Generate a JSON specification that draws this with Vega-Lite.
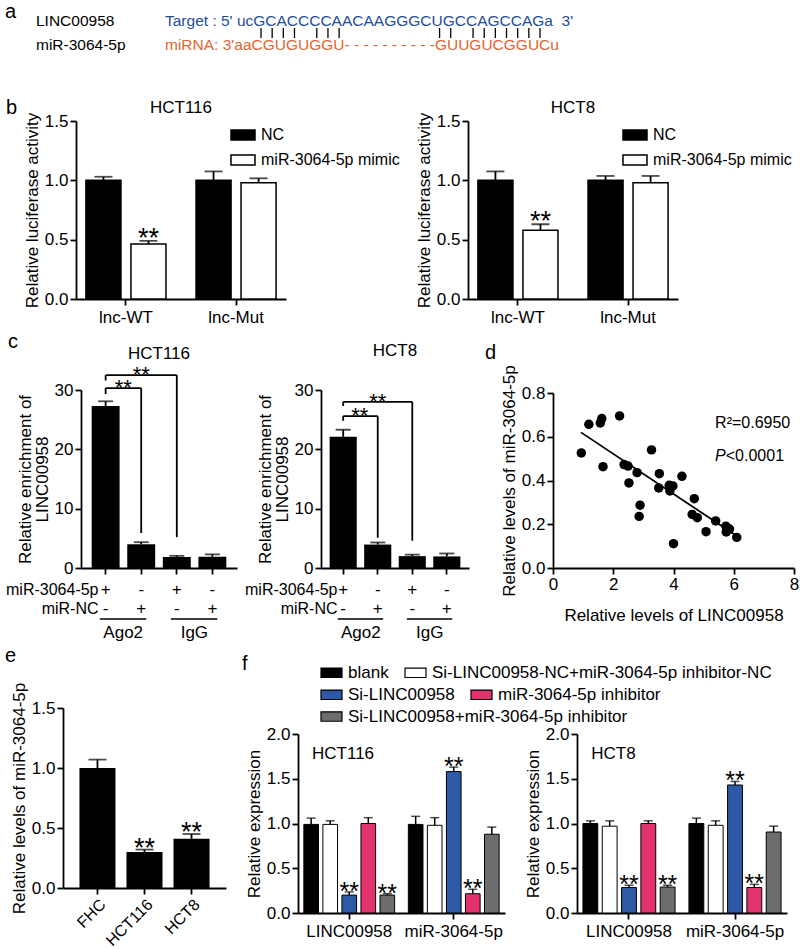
{
  "$schema": "https://vega.github.io/schema/vega-lite/v6.json",
  "background": "white",
  "padding": {"left": 2, "top": 2, "right": 0, "bottom": 0},
  "config": {
    "font": "Liberation Sans",
    "view": {"stroke": null},
    "axis": {"domainColor": "black", "domainWidth": 1.8, "tickColor": "black", "tickWidth": 1.8, "tickSize": 6, "labelColor": "black", "labelFontSize": 17, "titleFontSize": 17, "titleFontWeight": "normal", "titleColor": "black", "grid": false, "labelPadding": 3, "titlePadding": 3, "labelOverlap": false, "labelFlush": false},
    "title": {"fontSize": 17, "fontWeight": "normal", "color": "black", "baseline": "alphabetic"},
    "legend": {"labelFontSize": 17, "labelColor": "black", "padding": 0, "labelLimit": 500},
    "text": {"color": "black"}
  },
  "resolve": {"scale": {"x": "independent", "y": "independent", "xOffset": "independent", "color": "independent", "fill": "independent"}},
  "spacing": 44,
  "vconcat": [
    {
      "width": 326, "height": 36,
      "title": {"text": "a", "anchor": "start", "frame": "group", "fontSize": 20, "dx": 3, "offset": -8},
      "resolve": {"scale": {"x": "independent"}},
      "layer": [
        {
          "data": {"values": [
            {"col": "label", "line": "t", "txt": "LINC00958", "kind": "label"},
            {"col": "label", "line": "m", "txt": "miR-3064-5p", "kind": "label"},
            {"col": "seq", "line": "t", "txt": "Target : 5' ucGCACCCCAACAAGGGCUGCCAGCCAGa\u00a0\u00a03'", "kind": "target"},
            {"col": "seq", "line": "m", "txt": "miRNA: 3'aaCGUGUGGU-\u00a0-\u00a0-\u00a0-\u00a0-\u00a0-\u00a0-\u00a0-\u00a0-\u00a0-GUUGUCGGUCu", "kind": "mirna"}
          ]},
          "mark": {"type": "text", "align": "left", "baseline": "middle", "fontSize": 15.5},
          "encoding": {
            "x": {"field": "col", "type": "nominal", "bandPosition": 0, "scale": {"type": "band", "domain": ["label", "seq"], "paddingInner": 0, "paddingOuter": 0.2636}, "axis": null},
            "y": {"field": "line", "type": "nominal", "scale": {"type": "point", "domain": ["t", "p", "m"], "padding": 0.5}, "axis": null},
            "text": {"field": "txt"},
            "color": {"field": "kind", "type": "nominal", "scale": {"domain": ["label", "target", "mirna"], "range": ["black", "#1f4e9a", "#e4652f"]}, "legend": null}
          }
        },
        {
          "data": {"values": [
            {"k": 1, "line": "p", "pairing": "match"}, {"k": 2, "line": "p", "pairing": "match"}, {"k": 3, "line": "p", "pairing": "match"}, {"k": 4, "line": "p", "pairing": "match"},
            {"k": 6, "line": "p", "pairing": "match"}, {"k": 7, "line": "p", "pairing": "match"}, {"k": 8, "line": "p", "pairing": "match"},
            {"k": 17, "line": "p", "pairing": "wobble"}, {"k": 18, "line": "p", "pairing": "wobble"},
            {"k": 20, "line": "p", "pairing": "match"}, {"k": 21, "line": "p", "pairing": "match"}, {"k": 22, "line": "p", "pairing": "match"}, {"k": 23, "line": "p", "pairing": "match"},
            {"k": 24, "line": "p", "pairing": "match"}, {"k": 25, "line": "p", "pairing": "match"}, {"k": 26, "line": "p", "pairing": "match"}
          ]},
          "mark": {"type": "tick", "size": 10, "thickness": 1.3, "color": "black", "opacity": 1},
          "encoding": {
            "x": {"field": "k", "type": "quantitative", "scale": {"domain": [1, 26], "range": [259, 538]}, "axis": null},
            "y": {"field": "line", "type": "nominal"},
            "strokeDash": {"field": "pairing", "type": "nominal", "scale": {"domain": ["match", "wobble"], "range": [[1, 0], [2, 6]]}, "legend": null}
          }
        }
      ]
    },
    {
      "spacing": 7,
      "resolve": {"scale": {"x": "independent", "y": "independent", "xOffset": "independent", "fill": "independent"}},
      "vconcat": [
        {
          "title": {"text": "b", "anchor": "start", "frame": "group", "fontSize": 20, "dx": 4, "offset": -19},
          "bounds": "flush",
          "spacing": 0,
          "resolve": {"scale": {"x": "independent", "y": "independent", "xOffset": "independent", "fill": "independent"}},
          "hconcat": [
            {"width": 74, "height": 1, "data": {"values": []}, "mark": "point"},
            {
              "width": 210, "height": 178,
              "title": {"text": "HCT116", "offset": -5},
              "data": {"values": [
                {"bgrp": "lnc-WT", "btreat": "NC", "mean": 1.0, "upper": 1.03, "sig": ""},
                {"bgrp": "lnc-WT", "btreat": "miR-3064-5p mimic", "mean": 0.463, "upper": 0.49, "sig": "**"},
                {"bgrp": "lnc-Mut", "btreat": "NC", "mean": 1.0, "upper": 1.075, "sig": ""},
                {"bgrp": "lnc-Mut", "btreat": "miR-3064-5p mimic", "mean": 0.98, "upper": 1.017, "sig": ""}
              ]},
              "encoding": {
                "x": {"field": "bgrp", "type": "nominal", "scale": {"domain": ["lnc-WT", "lnc-Mut"], "paddingInner": 0.273, "paddingOuter": 0.09}, "axis": {"title": null, "labelAngle": 0, "labelPadding": 4}},
                "xOffset": {"field": "btreat", "type": "nominal", "scale": {"domain": ["NC", "miR-3064-5p mimic"], "paddingInner": 0.222, "paddingOuter": 0}}
              },
              "layer": [
                {"mark": {"type": "bar", "stroke": "black", "strokeWidth": 1.5},
                 "encoding": {
                   "y": {"field": "mean", "type": "quantitative", "scale": {"domain": [0, 1.5], "nice": false}, "axis": {"values": [0, 0.5, 1, 1.5], "format": ".1f", "title": "Relative luciferase activity", "labelPadding": 2}},
                   "fill": {"field": "btreat", "type": "nominal", "scale": {"domain": ["NC", "miR-3064-5p mimic"], "range": ["black", "white"]},
                            "legend": {"title": null, "orient": "none", "legendX": 154, "legendY": 1, "symbolType": "M-1,-0.42H1V0.42H-1Z", "symbolSize": 576, "symbolStrokeColor": "black", "symbolStrokeWidth": 1.5, "labelOffset": 5, "rowPadding": 3, "labelFontSize": 16}}
                 }},
                {"mark": {"type": "rule", "strokeWidth": 1.8, "color": "black"}, "encoding": {"y": {"field": "mean", "type": "quantitative"}, "y2": {"field": "upper"}}},
                {"mark": {"type": "tick", "thickness": 1.8, "size": 18, "color": "black"}, "encoding": {"y": {"field": "upper", "type": "quantitative"}}},
                {"mark": {"type": "text", "fontSize": 27, "dy": 6, "baseline": "alphabetic", "align": "center"}, "encoding": {"y": {"field": "upper", "type": "quantitative"}, "text": {"field": "sig"}}}
              ]
            },
            {"width": 182, "height": 1, "data": {"values": []}, "mark": "point"},
            {
              "width": 210, "height": 178,
              "title": {"text": "HCT8", "offset": -5},
              "data": {"values": [
                {"bgrp": "lnc-WT", "btreat": "NC", "mean": 1.0, "upper": 1.075, "sig": ""},
                {"bgrp": "lnc-WT", "btreat": "miR-3064-5p mimic", "mean": 0.58, "upper": 0.63, "sig": "**"},
                {"bgrp": "lnc-Mut", "btreat": "NC", "mean": 1.0, "upper": 1.037, "sig": ""},
                {"bgrp": "lnc-Mut", "btreat": "miR-3064-5p mimic", "mean": 0.98, "upper": 1.037, "sig": ""}
              ]},
              "encoding": {
                "x": {"field": "bgrp", "type": "nominal", "scale": {"domain": ["lnc-WT", "lnc-Mut"], "paddingInner": 0.273, "paddingOuter": 0.09}, "axis": {"title": null, "labelAngle": 0, "labelPadding": 4}},
                "xOffset": {"field": "btreat", "type": "nominal", "scale": {"domain": ["NC", "miR-3064-5p mimic"], "paddingInner": 0.222, "paddingOuter": 0}}
              },
              "layer": [
                {"mark": {"type": "bar", "stroke": "black", "strokeWidth": 1.5},
                 "encoding": {
                   "y": {"field": "mean", "type": "quantitative", "scale": {"domain": [0, 1.5], "nice": false}, "axis": {"values": [0, 0.5, 1, 1.5], "format": ".1f", "title": "Relative luciferase activity", "labelPadding": 2}},
                   "fill": {"field": "btreat", "type": "nominal", "scale": {"domain": ["NC", "miR-3064-5p mimic"], "range": ["black", "white"]},
                            "legend": {"title": null, "orient": "none", "legendX": 154, "legendY": 1, "symbolType": "M-1,-0.42H1V0.42H-1Z", "symbolSize": 576, "symbolStrokeColor": "black", "symbolStrokeWidth": 1.5, "labelOffset": 5, "rowPadding": 3, "labelFontSize": 16}}
                 }},
                {"mark": {"type": "rule", "strokeWidth": 1.8, "color": "black"}, "encoding": {"y": {"field": "mean", "type": "quantitative"}, "y2": {"field": "upper"}}},
                {"mark": {"type": "tick", "thickness": 1.8, "size": 18, "color": "black"}, "encoding": {"y": {"field": "upper", "type": "quantitative"}}},
                {"mark": {"type": "text", "fontSize": 27, "dy": 6, "baseline": "alphabetic", "align": "center"}, "encoding": {"y": {"field": "upper", "type": "quantitative"}, "text": {"field": "sig"}}}
              ]
            }
          ]
        },
        {
          "spacing": 4,
          "resolve": {"scale": {"x": "independent", "y": "independent", "xOffset": "independent", "fill": "independent"}},
          "vconcat": [
            {
              "title": {"text": "c", "anchor": "start", "frame": "group", "fontSize": 20, "dx": 6, "offset": -10},
              "bounds": "flush",
              "spacing": 0,
              "resolve": {"scale": {"x": "independent", "y": "independent"}},
              "hconcat": [
                {"width": 79, "height": 1, "data": {"values": []}, "mark": "point"},
                {
                  "width": 156, "height": 178,
                  "title": {"text": "HCT116", "offset": 1},
                  "encoding": {
                    "x": {"field": "cond", "type": "nominal", "scale": {"domain": ["c1", "c2", "c3", "c4"], "paddingInner": 0.215, "paddingOuter": 0.3},
                          "axis": {"labelExpr": "datum.value == 'c1' || datum.value == 'c3' ? ['+', '-'] : ['-', '+']", "labelAngle": 0, "labelLineHeight": 19, "labelPadding": 7, "title": ["miR-3064-5p", "miR-NC"], "titleX": 17, "titleY": 13, "titleAlign": "right", "titleBaseline": "top", "titleAngle": 0, "titleLineHeight": 19, "titleFontSize": 16}}
                  },
                  "layer": [
                    {"data": {"values": [
                      {"cond": "c1", "mean": 27.3, "upper": 28.1},
                      {"cond": "c2", "mean": 4.0, "upper": 4.35},
                      {"cond": "c3", "mean": 1.85, "upper": 2.05},
                      {"cond": "c4", "mean": 1.9, "upper": 2.3}
                    ]},
                     "layer": [
                       {"mark": {"type": "bar", "color": "black"},
                        "encoding": {"y": {"field": "mean", "type": "quantitative", "scale": {"domain": [0, 30], "nice": false}, "axis": {"values": [0, 10, 20, 30], "title": ["Relative enrichment of", "LINC00958"], "titleLineHeight": 17, "labelPadding": 2}}}},
                       {"mark": {"type": "rule", "strokeWidth": 1.8, "color": "black"}, "encoding": {"y": {"field": "mean", "type": "quantitative"}, "y2": {"field": "upper"}}},
                       {"mark": {"type": "tick", "thickness": 1.8, "size": 15, "color": "black"}, "encoding": {"y": {"field": "upper", "type": "quantitative"}}}
                     ]},
                    {"data": {"values": [{"cond": "c1", "cond2": "c2", "lev": 30.3}, {"cond": "c1", "cond2": "c3", "lev": 32.5}]},
                     "mark": {"type": "rule", "strokeWidth": 1.8, "color": "black"},
                     "encoding": {"x": {"field": "cond", "type": "nominal", "bandPosition": 0.5}, "x2": {"field": "cond2", "bandPosition": 0.5}, "y": {"field": "lev", "type": "quantitative"}}},
                    {"data": {"values": [{"cond": "c1", "lo": 29.3, "hi": 30.3}, {"cond": "c2", "lo": 5.9, "hi": 30.3}, {"cond": "c1", "lo": 31.6, "hi": 32.5}, {"cond": "c3", "lo": 5.2, "hi": 32.5}]},
                     "mark": {"type": "rule", "strokeWidth": 1.8, "color": "black"},
                     "encoding": {"y": {"field": "lo", "type": "quantitative"}, "y2": {"field": "hi"}}},
                    {"data": {"values": [{"cond": "c2", "lev": 29.24, "sig": "**"}]},
                     "mark": {"type": "text", "fontSize": 22, "baseline": "alphabetic", "align": "center", "dx": -18},
                     "encoding": {"y": {"field": "lev", "type": "quantitative"}, "text": {"field": "sig"}}},
                    {"data": {"values": [{"cond": "c2", "lev": 31.27, "sig": "**"}]},
                     "mark": {"type": "text", "fontSize": 22, "baseline": "alphabetic", "align": "center"},
                     "encoding": {"y": {"field": "lev", "type": "quantitative"}, "text": {"field": "sig"}}},
                    {"data": {"values": [{"cond": "c1", "cond2": "c2", "lev": -8.6}, {"cond": "c3", "cond2": "c4", "lev": -8.6}]},
                     "mark": {"type": "rule", "strokeWidth": 1.5, "color": "black"},
                     "encoding": {"x": {"field": "cond", "type": "nominal", "bandPosition": 0.29}, "x2": {"field": "cond2", "bandPosition": 0.68}, "y": {"field": "lev", "type": "quantitative"}}},
                    {"data": {"values": [{"cond": "c2", "lev": -11, "lbl": "Ago2"}, {"cond": "c4", "lev": -11, "lbl": "IgG"}]},
                     "mark": {"type": "text", "fontSize": 17, "baseline": "middle", "align": "center", "dx": -18},
                     "encoding": {"y": {"field": "lev", "type": "quantitative"}, "text": {"field": "lbl"}}}
                  ]
                },
                {"width": 84, "height": 1, "data": {"values": []}, "mark": "point"},
                {
                  "width": 148, "height": 178,
                  "title": {"text": "HCT8", "offset": 21},
                  "encoding": {
                    "x": {"field": "cond", "type": "nominal", "scale": {"domain": ["c1", "c2", "c3", "c4"], "paddingInner": 0.215, "paddingOuter": 0.25},
                          "axis": {"labelExpr": "datum.value == 'c1' || datum.value == 'c3' ? ['+', '-'] : ['-', '+']", "labelAngle": 0, "labelLineHeight": 19, "labelPadding": 7, "title": ["miR-3064-5p", "miR-NC"], "titleX": 16, "titleY": 13, "titleAlign": "right", "titleBaseline": "top", "titleAngle": 0, "titleLineHeight": 19, "titleFontSize": 16}}
                  },
                  "layer": [
                    {"data": {"values": [
                      {"cond": "c1", "mean": 22.1, "upper": 23.3},
                      {"cond": "c2", "mean": 3.95, "upper": 4.3},
                      {"cond": "c3", "mean": 2.0, "upper": 2.25},
                      {"cond": "c4", "mean": 1.95, "upper": 2.45}
                    ]},
                     "layer": [
                       {"mark": {"type": "bar", "color": "black"},
                        "encoding": {"y": {"field": "mean", "type": "quantitative", "scale": {"domain": [0, 30], "nice": false}, "axis": {"values": [0, 10, 20, 30], "title": ["Relative enrichment of", "LINC00958"], "titleLineHeight": 17, "labelPadding": 2}}}},
                       {"mark": {"type": "rule", "strokeWidth": 1.8, "color": "black"}, "encoding": {"y": {"field": "mean", "type": "quantitative"}, "y2": {"field": "upper"}}},
                       {"mark": {"type": "tick", "thickness": 1.8, "size": 15, "color": "black"}, "encoding": {"y": {"field": "upper", "type": "quantitative"}}}
                     ]},
                    {"data": {"values": [{"cond": "c1", "cond2": "c2", "lev": 25.6}, {"cond": "c1", "cond2": "c3", "lev": 28.0}]},
                     "mark": {"type": "rule", "strokeWidth": 1.8, "color": "black"},
                     "encoding": {"x": {"field": "cond", "type": "nominal", "bandPosition": 0.5}, "x2": {"field": "cond2", "bandPosition": 0.5}, "y": {"field": "lev", "type": "quantitative"}}},
                    {"data": {"values": [{"cond": "c1", "lo": 24.8, "hi": 25.6}, {"cond": "c2", "lo": 5.1, "hi": 25.6}, {"cond": "c1", "lo": 27.3, "hi": 28.0}, {"cond": "c3", "lo": 4.6, "hi": 28.0}]},
                     "mark": {"type": "rule", "strokeWidth": 1.8, "color": "black"},
                     "encoding": {"y": {"field": "lo", "type": "quantitative"}, "y2": {"field": "hi"}}},
                    {"data": {"values": [{"cond": "c2", "lev": 24.36, "sig": "**"}]},
                     "mark": {"type": "text", "fontSize": 22, "baseline": "alphabetic", "align": "center", "dx": -18},
                     "encoding": {"y": {"field": "lev", "type": "quantitative"}, "text": {"field": "sig"}}},
                    {"data": {"values": [{"cond": "c2", "lev": 26.72, "sig": "**"}]},
                     "mark": {"type": "text", "fontSize": 22, "baseline": "alphabetic", "align": "center"},
                     "encoding": {"y": {"field": "lev", "type": "quantitative"}, "text": {"field": "sig"}}},
                    {"data": {"values": [{"cond": "c1", "cond2": "c2", "lev": -8.6}, {"cond": "c3", "cond2": "c4", "lev": -8.6}]},
                     "mark": {"type": "rule", "strokeWidth": 1.5, "color": "black"},
                     "encoding": {"x": {"field": "cond", "type": "nominal", "bandPosition": 0.3}, "x2": {"field": "cond2", "bandPosition": 0.7}, "y": {"field": "lev", "type": "quantitative"}}},
                    {"data": {"values": [{"cond": "c2", "lev": -11, "lbl": "Ago2"}, {"cond": "c4", "lev": -11, "lbl": "IgG"}]},
                     "mark": {"type": "text", "fontSize": 17, "baseline": "middle", "align": "center", "dx": -17},
                     "encoding": {"y": {"field": "lev", "type": "quantitative"}, "text": {"field": "lbl"}}}
                  ]
                },
                {"width": 84, "height": 1, "data": {"values": []}, "mark": "point"},
                {
                  "width": 241, "height": 178,
                  "title": {"text": "d", "anchor": "start", "frame": "group", "fontSize": 20, "dx": -68, "offset": 2},
                  "layer": [
                    {"data": {"values": [
                      {"lx": 0.94, "ly": 0.526}, {"lx": 1.19, "ly": 0.657}, {"lx": 1.57, "ly": 0.663}, {"lx": 1.62, "ly": 0.683},
                      {"lx": 1.66, "ly": 0.463}, {"lx": 2.21, "ly": 0.695}, {"lx": 2.36, "ly": 0.473}, {"lx": 2.49, "ly": 0.466},
                      {"lx": 2.52, "ly": 0.389}, {"lx": 2.79, "ly": 0.436}, {"lx": 2.89, "ly": 0.287}, {"lx": 2.86, "ly": 0.236},
                      {"lx": 3.27, "ly": 0.54}, {"lx": 3.53, "ly": 0.431}, {"lx": 3.51, "ly": 0.366}, {"lx": 3.86, "ly": 0.378},
                      {"lx": 3.98, "ly": 0.375}, {"lx": 3.88, "ly": 0.352}, {"lx": 4.28, "ly": 0.419}, {"lx": 4.0, "ly": 0.111},
                      {"lx": 4.69, "ly": 0.317}, {"lx": 4.62, "ly": 0.245}, {"lx": 4.79, "ly": 0.23}, {"lx": 5.08, "ly": 0.166},
                      {"lx": 5.4, "ly": 0.215}, {"lx": 5.74, "ly": 0.191}, {"lx": 5.86, "ly": 0.178}, {"lx": 5.75, "ly": 0.165},
                      {"lx": 6.1, "ly": 0.14}
                    ]},
                     "mark": {"type": "point", "filled": true, "size": 90, "color": "black", "opacity": 1},
                     "encoding": {
                       "x": {"field": "lx", "type": "quantitative", "scale": {"domain": [0, 8], "nice": false}, "axis": {"values": [0, 2, 4, 6, 8], "title": "Relative levels of LINC00958", "labelPadding": 2, "titlePadding": 15}},
                       "y": {"field": "ly", "type": "quantitative", "scale": {"domain": [0, 0.8], "nice": false, "range": [178, 3]}, "axis": {"values": [0, 0.2, 0.4, 0.6, 0.8], "format": ".1f", "title": "Relative levels of miR-3064-5p", "labelPadding": 2}}
                     }},
                    {"data": {"values": [{"lx": 0.93, "ly": 0.62}, {"lx": 6.1, "ly": 0.146}]},
                     "mark": {"type": "line", "color": "black", "strokeWidth": 1.8},
                     "encoding": {"x": {"field": "lx", "type": "quantitative"}, "y": {"field": "ly", "type": "quantitative"}}},
                    {"data": {"values": [{"lx": 5.38, "ly": 0.663, "t": "R²=0.6950"}]},
                     "mark": {"type": "text", "align": "left", "baseline": "middle", "fontSize": 16},
                     "encoding": {"x": {"field": "lx", "type": "quantitative"}, "y": {"field": "ly", "type": "quantitative"}, "text": {"field": "t"}}},
                    {"data": {"values": [{"lx": 5.38, "ly": 0.512, "t": "P"}]},
                     "mark": {"type": "text", "align": "left", "baseline": "middle", "fontSize": 16, "fontStyle": "italic"},
                     "encoding": {"x": {"field": "lx", "type": "quantitative"}, "y": {"field": "ly", "type": "quantitative"}, "text": {"field": "t"}}},
                    {"data": {"values": [{"lx": 5.735, "ly": 0.512, "t": "<0.0001"}]},
                     "mark": {"type": "text", "align": "left", "baseline": "middle", "fontSize": 16},
                     "encoding": {"x": {"field": "lx", "type": "quantitative"}, "y": {"field": "ly", "type": "quantitative"}, "text": {"field": "t"}}}
                  ]
                }
              ]
            },
            {
              "bounds": "flush",
              "spacing": 0,
              "resolve": {"scale": {"x": "independent", "y": "independent", "xOffset": "independent", "fill": "independent"}},
              "hconcat": [
                {"width": 61, "height": 1, "data": {"values": []}, "mark": "point"},
                {
                  "width": 163, "height": 180,
                  "title": {"text": "e", "anchor": "start", "frame": "group", "fontSize": 20, "dx": -58, "offset": 16},
                  "data": {"values": [
                    {"cell": "FHC", "mean": 1.0, "upper": 1.07, "sig": ""},
                    {"cell": "HCT116", "mean": 0.3, "upper": 0.32, "sig": "**"},
                    {"cell": "HCT8", "mean": 0.41, "upper": 0.45, "sig": "**"}
                  ]},
                  "encoding": {"x": {"field": "cell", "type": "nominal", "scale": {"domain": ["FHC", "HCT116", "HCT8"], "paddingInner": 0.234, "paddingOuter": 0.35}, "axis": {"title": null, "labelAngle": -45, "labelPadding": 2, "labelFontSize": 16}}},
                  "layer": [
                    {"mark": {"type": "bar", "color": "black"},
                     "encoding": {"y": {"field": "mean", "type": "quantitative", "scale": {"domain": [0, 1.5], "nice": false}, "axis": {"values": [0, 0.5, 1, 1.5], "format": ".1f", "title": "Relative levels of miR-3064-5p", "labelPadding": 2}}}},
                    {"mark": {"type": "rule", "strokeWidth": 1.8, "color": "black"}, "encoding": {"y": {"field": "mean", "type": "quantitative"}, "y2": {"field": "upper"}}},
                    {"mark": {"type": "tick", "thickness": 1.8, "size": 18, "color": "black"}, "encoding": {"y": {"field": "upper", "type": "quantitative"}}},
                    {"mark": {"type": "text", "fontSize": 27, "dy": 7, "baseline": "alphabetic", "align": "center"}, "encoding": {"y": {"field": "upper", "type": "quantitative"}, "text": {"field": "sig"}}}
                  ]
                },
                {"width": 72, "height": 1, "data": {"values": []}, "mark": "point"},
                {
                  "width": 207, "height": 205,
                  "title": {"text": "f", "anchor": "start", "frame": "group", "fontSize": 20, "dx": -56, "offset": -13},
                  "data": {"values": [
                    {"fgrp": "LINC00958", "ftreat": "blank", "mean": 0.99, "upper": 1.06, "sig": ""},
                    {"fgrp": "LINC00958", "ftreat": "Si-LINC00958-NC+miR-3064-5p inhibitor-NC", "mean": 0.99, "upper": 1.03, "sig": ""},
                    {"fgrp": "LINC00958", "ftreat": "Si-LINC00958", "mean": 0.2, "upper": 0.235, "sig": "**"},
                    {"fgrp": "LINC00958", "ftreat": "miR-3064-5p inhibitor", "mean": 1.0, "upper": 1.065, "sig": ""},
                    {"fgrp": "LINC00958", "ftreat": "Si-LINC00958+miR-3064-5p inhibitor", "mean": 0.2, "upper": 0.215, "sig": "**"},
                    {"fgrp": "miR-3064-5p", "ftreat": "blank", "mean": 0.99, "upper": 1.08, "sig": ""},
                    {"fgrp": "miR-3064-5p", "ftreat": "Si-LINC00958-NC+miR-3064-5p inhibitor-NC", "mean": 0.98, "upper": 1.065, "sig": ""},
                    {"fgrp": "miR-3064-5p", "ftreat": "Si-LINC00958", "mean": 1.58, "upper": 1.63, "sig": "**"},
                    {"fgrp": "miR-3064-5p", "ftreat": "miR-3064-5p inhibitor", "mean": 0.215, "upper": 0.265, "sig": "**"},
                    {"fgrp": "miR-3064-5p", "ftreat": "Si-LINC00958+miR-3064-5p inhibitor", "mean": 0.88, "upper": 0.96, "sig": ""}
                  ]},
                  "encoding": {
                    "x": {"field": "fgrp", "type": "nominal", "scale": {"domain": ["LINC00958", "miR-3064-5p"], "paddingInner": 0.131, "paddingOuter": 0.056}, "axis": {"title": null, "labelAngle": 0, "labelPadding": 4}},
                    "xOffset": {"field": "ftreat", "type": "nominal", "scale": {"domain": ["blank", "Si-LINC00958-NC+miR-3064-5p inhibitor-NC", "Si-LINC00958", "miR-3064-5p inhibitor", "Si-LINC00958+miR-3064-5p inhibitor"], "paddingInner": 0.231, "paddingOuter": 0}}
                  },
                  "resolve": {"scale": {"fill": "independent"}, "legend": {"fill": "independent"}},
                  "layer": [
                    {"transform": [{"filter": {"field": "ftreat", "oneOf": ["blank", "Si-LINC00958-NC+miR-3064-5p inhibitor-NC"]}}],
                     "mark": {"type": "bar", "stroke": "black", "strokeWidth": 1},
                     "encoding": {
                       "y": {"field": "mean", "type": "quantitative", "scale": {"domain": [0, 2], "nice": false, "range": [205, 26]}, "axis": {"values": [0, 0.5, 1, 1.5, 2], "format": ".1f", "title": "Relative expression", "labelPadding": 2}},
                       "fill": {"field": "ftreat", "type": "nominal", "scale": {"domain": ["blank", "Si-LINC00958-NC+miR-3064-5p inhibitor-NC"], "range": ["black", "white"]},
                                "legend": {"title": null, "orient": "none", "legendX": 22, "legendY": -47, "direction": "horizontal", "columnPadding": 13, "symbolType": "M-1,-0.45H1V0.45H-1Z", "symbolSize": 441, "symbolStrokeColor": "black", "symbolStrokeWidth": 1.2, "labelOffset": 5}}
                     }},
                    {"transform": [{"filter": {"field": "ftreat", "oneOf": ["Si-LINC00958", "miR-3064-5p inhibitor"]}}],
                     "mark": {"type": "bar", "stroke": "black", "strokeWidth": 1},
                     "encoding": {
                       "y": {"field": "mean", "type": "quantitative"},
                       "fill": {"field": "ftreat", "type": "nominal", "scale": {"domain": ["Si-LINC00958", "miR-3064-5p inhibitor"], "range": ["#2d59a6", "#e2336f"]},
                                "legend": {"title": null, "orient": "none", "legendX": 22, "legendY": -25, "direction": "horizontal", "columnPadding": 13, "symbolType": "M-1,-0.45H1V0.45H-1Z", "symbolSize": 441, "symbolStrokeColor": "black", "symbolStrokeWidth": 1.2, "labelOffset": 5}}
                     }},
                    {"transform": [{"filter": {"field": "ftreat", "equal": "Si-LINC00958+miR-3064-5p inhibitor"}}],
                     "mark": {"type": "bar", "stroke": "black", "strokeWidth": 1},
                     "encoding": {
                       "y": {"field": "mean", "type": "quantitative"},
                       "fill": {"field": "ftreat", "type": "nominal", "scale": {"domain": ["Si-LINC00958+miR-3064-5p inhibitor"], "range": ["#6d6d6d"]},
                                "legend": {"title": null, "orient": "none", "legendX": 22, "legendY": -3, "direction": "horizontal", "columnPadding": 13, "symbolType": "M-1,-0.45H1V0.45H-1Z", "symbolSize": 441, "symbolStrokeColor": "black", "symbolStrokeWidth": 1.2, "labelOffset": 5}}
                     }},
                    {"mark": {"type": "rule", "strokeWidth": 1.5, "color": "black"}, "encoding": {"y": {"field": "mean", "type": "quantitative"}, "y2": {"field": "upper"}}},
                    {"mark": {"type": "tick", "thickness": 1.5, "size": 9, "color": "black"}, "encoding": {"y": {"field": "upper", "type": "quantitative"}}},
                    {"mark": {"type": "text", "fontSize": 25, "dy": 8, "baseline": "alphabetic", "align": "center"}, "encoding": {"y": {"field": "upper", "type": "quantitative"}, "text": {"field": "sig"}}},
                    {"data": {"values": [{"fgrp": "LINC00958", "lbl": "HCT116", "lev": 1.78}]},
                     "mark": {"type": "text", "align": "left", "baseline": "middle", "fontSize": 17},
                     "encoding": {"x": {"field": "fgrp", "type": "nominal", "bandPosition": 0.09}, "xOffset": null, "y": {"field": "lev", "type": "quantitative"}, "text": {"field": "lbl"}}}
                  ]
                },
                {"width": 72, "height": 1, "data": {"values": []}, "mark": "point"},
                {
                  "width": 210, "height": 205,
                  "data": {"values": [
                    {"fgrp": "LINC00958", "ftreat": "blank", "mean": 1.0, "upper": 1.03, "sig": ""},
                    {"fgrp": "LINC00958", "ftreat": "Si-LINC00958-NC+miR-3064-5p inhibitor-NC", "mean": 0.97, "upper": 1.03, "sig": ""},
                    {"fgrp": "LINC00958", "ftreat": "Si-LINC00958", "mean": 0.285, "upper": 0.31, "sig": "**"},
                    {"fgrp": "LINC00958", "ftreat": "miR-3064-5p inhibitor", "mean": 1.0, "upper": 1.03, "sig": ""},
                    {"fgrp": "LINC00958", "ftreat": "Si-LINC00958+miR-3064-5p inhibitor", "mean": 0.29, "upper": 0.31, "sig": "**"},
                    {"fgrp": "miR-3064-5p", "ftreat": "blank", "mean": 1.0, "upper": 1.06, "sig": ""},
                    {"fgrp": "miR-3064-5p", "ftreat": "Si-LINC00958-NC+miR-3064-5p inhibitor-NC", "mean": 0.98, "upper": 1.03, "sig": ""},
                    {"fgrp": "miR-3064-5p", "ftreat": "Si-LINC00958", "mean": 1.43, "upper": 1.47, "sig": "**"},
                    {"fgrp": "miR-3064-5p", "ftreat": "miR-3064-5p inhibitor", "mean": 0.285, "upper": 0.32, "sig": "**"},
                    {"fgrp": "miR-3064-5p", "ftreat": "Si-LINC00958+miR-3064-5p inhibitor", "mean": 0.905, "upper": 0.97, "sig": ""}
                  ]},
                  "encoding": {
                    "x": {"field": "fgrp", "type": "nominal", "scale": {"domain": ["LINC00958", "miR-3064-5p"], "paddingInner": 0.131, "paddingOuter": 0.056}, "axis": {"title": null, "labelAngle": 0, "labelPadding": 4}},
                    "xOffset": {"field": "ftreat", "type": "nominal", "scale": {"domain": ["blank", "Si-LINC00958-NC+miR-3064-5p inhibitor-NC", "Si-LINC00958", "miR-3064-5p inhibitor", "Si-LINC00958+miR-3064-5p inhibitor"], "paddingInner": 0.231, "paddingOuter": 0}}
                  },
                  "layer": [
                    {"mark": {"type": "bar", "stroke": "black", "strokeWidth": 1},
                     "encoding": {
                       "y": {"field": "mean", "type": "quantitative", "scale": {"domain": [0, 2], "nice": false, "range": [205, 26]}, "axis": {"values": [0, 0.5, 1, 1.5, 2], "format": ".1f", "title": "Relative expression", "labelPadding": 2}},
                       "fill": {"field": "ftreat", "type": "nominal", "scale": {"domain": ["blank", "Si-LINC00958-NC+miR-3064-5p inhibitor-NC", "Si-LINC00958", "miR-3064-5p inhibitor", "Si-LINC00958+miR-3064-5p inhibitor"], "range": ["black", "white", "#2d59a6", "#e2336f", "#6d6d6d"]}, "legend": null}
                     }},
                    {"mark": {"type": "rule", "strokeWidth": 1.5, "color": "black"}, "encoding": {"y": {"field": "mean", "type": "quantitative"}, "y2": {"field": "upper"}}},
                    {"mark": {"type": "tick", "thickness": 1.5, "size": 9, "color": "black"}, "encoding": {"y": {"field": "upper", "type": "quantitative"}}},
                    {"mark": {"type": "text", "fontSize": 25, "dy": 8, "baseline": "alphabetic", "align": "center"}, "encoding": {"y": {"field": "upper", "type": "quantitative"}, "text": {"field": "sig"}}},
                    {"data": {"values": [{"fgrp": "LINC00958", "lbl": "HCT8", "lev": 1.78}]},
                     "mark": {"type": "text", "align": "left", "baseline": "middle", "fontSize": 17},
                     "encoding": {"x": {"field": "fgrp", "type": "nominal", "bandPosition": 0.09}, "xOffset": null, "y": {"field": "lev", "type": "quantitative"}, "text": {"field": "lbl"}}}
                  ]
                }
              ]
            }
          ]
        }
      ]
    }
  ]
}
